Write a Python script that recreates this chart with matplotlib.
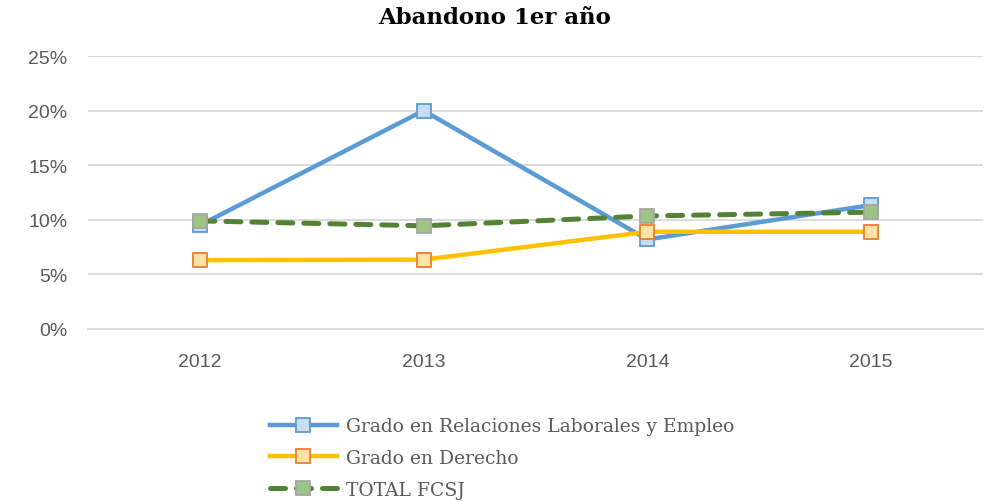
import matplotlib.pyplot as plt
from matplotlib.ticker import PercentFormatter

years = ["2012", "2013", "2014", "2015"]
relaciones = [9.5, 20.0, 8.2, 11.35]
derecho = [6.3, 6.35, 8.9, 8.9]
total = [9.9, 9.45, 10.35, 10.7]

fig = plt.figure(figsize=(9.9, 5.02), dpi=100)
ax = fig.add_axes([88 / 990, 1 - 330 / 502, (983 - 88) / 990, (330 - 57) / 502])

x = range(len(years))
ax.plot(x, relaciones, color="#5B9BD5", linewidth=3.2, marker="s", markersize=10,
        markerfacecolor="#C9DDEE", markeredgecolor="#5B9BD5", markeredgewidth=1.3,
        label="Grado en Relaciones Laborales y Empleo", zorder=3)
ax.plot(x, derecho, color="#FFC000", linewidth=3.2, marker="s", markersize=10,
        markerfacecolor="#FBE3A6", markeredgecolor="#ED7D31", markeredgewidth=1.3,
        label="Grado en Derecho", zorder=3)
ax.plot(x, total, color="#548235", linewidth=3.6, linestyle=(0, (3, 2.2)),
        dash_capstyle="round", marker="s", markersize=10,
        markerfacecolor="#9CC585", markeredgecolor="#A5A5A5", markeredgewidth=1.3,
        label="TOTAL FCSJ", zorder=4)

ax.set_xlim(-0.5, 3.5)
ax.set_ylim(0, 25)
ax.set_yticks([0, 5, 10, 15, 20, 25])
ax.yaxis.set_major_formatter(PercentFormatter(decimals=0))
ax.set_xticks(list(x))
ax.set_xticklabels(years)
ax.grid(axis="y", color="#D9D9D9", linewidth=1.3)
ax.set_axisbelow(True)
for s in ["top", "right", "left"]:
    ax.spines[s].set_visible(False)
ax.spines["bottom"].set_color("#D9D9D9")
ax.spines["bottom"].set_linewidth(1.3)
ax.tick_params(length=0, labelsize=14, colors="#595959")
ax.tick_params(axis="x", pad=17)
ax.tick_params(axis="y", pad=15)
for lab in ax.get_xticklabels() + ax.get_yticklabels():
    lab.set_family("Liberation Sans")

fig.text(0.5, 0.965, "Abandono 1er año", ha="center", va="center",
         fontsize=16.5, fontweight="bold", family="DejaVu Serif")

leg = fig.legend(loc="upper left", bbox_to_anchor=(262 / 990, 1 - 411 / 502),
                 frameon=False, handlelength=3.6, handletextpad=0.5,
                 labelspacing=0.72, borderaxespad=0,
                 prop={"family": "DejaVu Serif", "size": 13.5})
for t in leg.get_texts():
    t.set_color("#595959")

fig.savefig("out.png", dpi=100)
